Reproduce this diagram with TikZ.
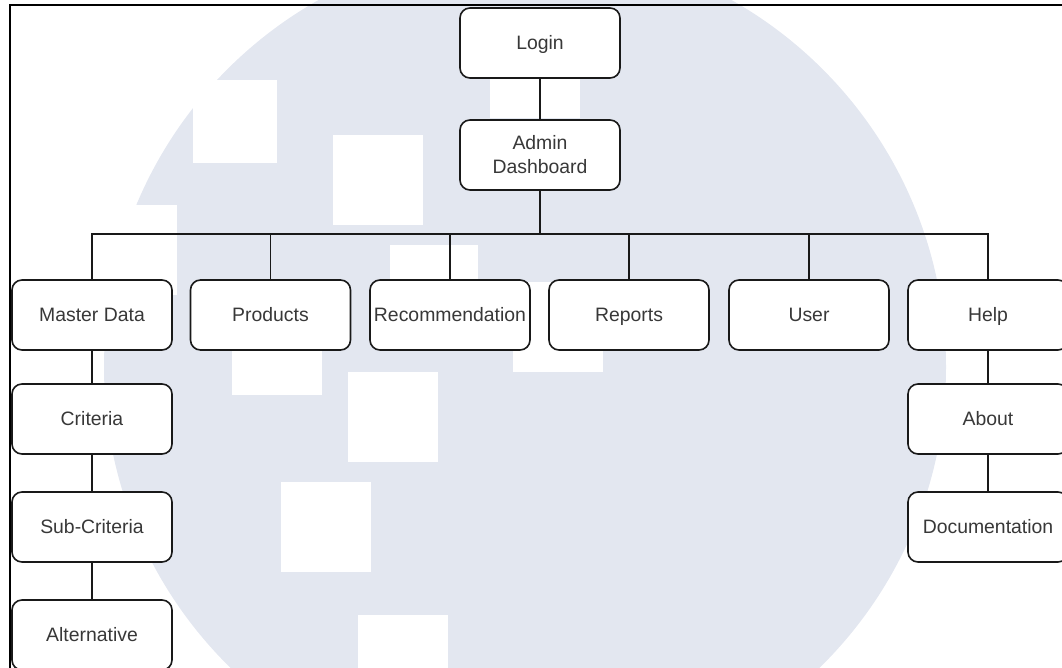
\documentclass[tikz,border=0pt]{standalone}
\usepackage{fontspec}
\setmainfont{Liberation Sans}
\begin{document}
\begin{tikzpicture}[x=1pt,y=-1pt,
  basebox/.style={draw=black!90, fill=white, line width=1.6pt, rounded corners=10pt,
    minimum width=160pt, minimum height=70pt, inner sep=0pt, align=center,
    text=black!78, font=\fontsize{19.4}{24}\selectfont},
  menubox/.style={basebox, text height=17pt, text depth=4pt},
  link/.style={draw=black!90, line width=1.6pt},
  wm/.style={fill=white, draw=none}]
\useasboundingbox (0,0) rectangle (1062,668);
\clip (0,0) rectangle (1062,668);
% watermark
\fill[fill={rgb,255:red,227;green,231;blue,240}] (525,367) circle[radius=421pt];
\foreach \a/\b/\c/\d in {193/80/277/163, 333/135/423/225, 490/28/580/118, 390/245/478/335,
  513/282/603/372, 232/305/322/395, 348/372/438/462, 281/482/371/572, 358/615/448/705, 87/205/177/295}
  \fill[wm] (\a,\b) rectangle (\c,\d);
% frame
\draw[line width=2pt, black] (9.5,680) -- (9.5,5.5) -- (1070,5.5);
% nodes
\node[menubox] (login) at (540,43) {Login};
\node[basebox] (admin) at (540,155) {Admin\\Dashboard};
\node[menubox] (md) at (92,315) {Master Data};
\node[menubox] (prod) at (270.5,315) {Products};
\node[menubox] (rec) at (450,315) {Recommendation};
\node[menubox] (rep) at (629,315) {Reports};
\node[menubox] (user) at (809,315) {User};
\node[menubox] (help) at (988,315) {Help};
\node[menubox] (crit) at (92,419) {Criteria};
\node[menubox] (sub) at (92,527) {Sub-Criteria};
\node[menubox] (alt) at (92,635) {Alternative};
\node[menubox] (about) at (988,419) {About};
\node[menubox] (doc) at (988,527) {Documentation};
\coordinate (bus) at (540,234);
% connectors
\draw[link] (login) -- (admin);
\draw[link] (admin) -- (bus);
\foreach \n in {md,prod,rec,rep,user,help}
  \draw[link] (bus) -| (\n.north);
\draw[link] (md) -- (crit);
\draw[link] (crit) -- (sub);
\draw[link] (sub) -- (alt);
\draw[link] (help) -- (about);
\draw[link] (about) -- (doc);
\end{tikzpicture}
\end{document}
